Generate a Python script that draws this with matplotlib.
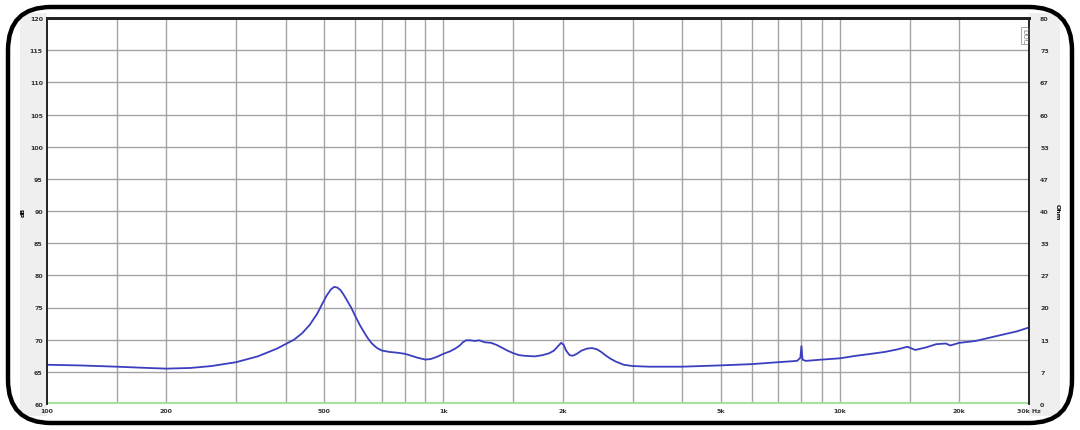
import matplotlib.pyplot as plt
from matplotlib.patches import FancyBboxPatch, Rectangle

# frequency response
freq = [100, 120, 150, 180, 200, 230, 260, 300, 340, 380, 420, 440, 460, 480,
        495, 508, 520, 530, 540, 550, 560, 570, 585, 600, 615, 630, 645, 660,
        680, 700, 730, 770, 800, 830, 860, 900, 930, 960, 1000, 1040, 1070,
        1100, 1120, 1140, 1170, 1200, 1230, 1270, 1320, 1360, 1400, 1450, 1500,
        1550, 1600, 1700, 1780, 1850, 1900, 1940, 1980, 2010, 2040, 2080, 2120,
        2170, 2230, 2300, 2370, 2440, 2500, 2560, 2630, 2720, 2850, 3000, 3300,
        3600, 4000, 5000, 6000, 7000, 7800, 7950, 8000, 8050, 8200, 9000, 10000,
        11000, 12000, 13000, 14000, 14800, 15500, 16500, 17500, 18500, 19000,
        20000, 22000, 25000, 28000, 30000]
spl = [66.1, 66.0, 65.8, 65.6, 65.5, 65.6, 65.9, 66.5, 67.4, 68.6, 70.0, 71.0,
       72.3, 74.0, 75.6, 76.9, 77.8, 78.2, 78.1, 77.7, 77.0, 76.2, 75.0, 73.6,
       72.3, 71.2, 70.2, 69.4, 68.7, 68.3, 68.1, 67.95, 67.8, 67.5, 67.2, 66.9,
       67.0, 67.3, 67.8, 68.2, 68.6, 69.1, 69.6, 69.9, 69.9, 69.8, 69.9, 69.6,
       69.5, 69.2, 68.8, 68.3, 67.9, 67.6, 67.5, 67.4, 67.6, 67.9, 68.3, 68.9,
       69.5, 69.2, 68.3, 67.6, 67.5, 67.8, 68.3, 68.6, 68.7, 68.5, 68.1, 67.6,
       67.1, 66.6, 66.1, 65.9, 65.8, 65.8, 65.8, 66.0, 66.2, 66.5, 66.7, 67.2,
       69.0, 66.9, 66.7, 66.9, 67.1, 67.5, 67.8, 68.1, 68.5, 68.9, 68.4, 68.8,
       69.3, 69.4, 69.1, 69.5, 69.8, 70.6, 71.3, 71.9]

# impedance trace (sits on the floor of the chart)
imp_freq = [100, 30000]
imp_val = [60.15, 60.15]

grid_freqs = [150, 200, 300, 400, 500, 600, 700, 800, 900, 1000, 1500, 2000,
              3000, 4000, 5000, 6000, 7000, 8000, 9000, 10000, 15000, 20000]
x_ticks = [100, 200, 500, 1000, 2000, 5000, 10000, 20000, 30000]
x_labels = ['100', '200', '500', '1k', '2k', '5k', '10k', '20k', '30k Hz']
db_ticks = list(range(60, 121, 5))
ohm_labels = ['0', '7', '13', '20', '27', '33', '40', '47', '53', '60', '67', '73', '80']

W, H = 1080, 431
fig = plt.figure(figsize=(W / 100, H / 100), dpi=100)
fig.patch.set_facecolor('white')

# grey side strips and rounded frame
fig.patches.append(Rectangle((20 / W, 14 / H), 27 / W, 403 / H, transform=fig.transFigure,
                             facecolor='#efefef', edgecolor='none', zorder=-5))
fig.patches.append(Rectangle((1029 / W, 14 / H), 31 / W, 403 / H, transform=fig.transFigure,
                             facecolor='#efefef', edgecolor='none', zorder=-5))
fig.patches.append(FancyBboxPatch((8 / W, 7 / H), 1064 / W, 416 / H,
                                  boxstyle='round,pad=0,rounding_size=0.04',
                                  transform=fig.transFigure, facecolor='none',
                                  edgecolor='black', linewidth=3.2, zorder=5,
                                  mutation_aspect=W / H))

ax = fig.add_axes([47 / W, 26 / H, 982 / W, 386 / H])
ax.set_xscale('log')
ax.set_xlim(100, 30000)
ax.set_ylim(60, 120)

for f in grid_freqs:
    ax.axvline(f, color='#a4a4a4', linewidth=1.0, zorder=1)
for d in db_ticks[1:-1]:
    ax.axhline(d, color='#a4a4a4', linewidth=1.0, zorder=1)

ax.plot(imp_freq, imp_val, color='#a8e0a0', linewidth=2.2, zorder=2)
ax.plot(freq, spl, color='#3b3fbf', linewidth=1.3, zorder=3)

ax.set_xticks(x_ticks)
ax.set_xticklabels(x_labels)
ax.minorticks_off()
ax.set_yticks(db_ticks)
ax.tick_params(axis='both', length=0, labelsize=4.5, colors='#333333', pad=3)
for lab in ax.get_xticklabels() + ax.get_yticklabels():
    lab.set_fontweight('bold')
ax.set_ylabel('dB', fontsize=4.5, fontweight='bold', labelpad=3)

ax2 = ax.twinx()
ax2.set_ylim(0, 80)
ax2.set_yticks([i * 80 / 12 for i in range(13)])
ax2.set_yticklabels(ohm_labels)
ax2.tick_params(axis='y', length=0, labelsize=4.5, colors='#333333', pad=8)
for lab in ax2.get_yticklabels():
    lab.set_fontweight('bold')
ax2.set_ylabel('Ohm', fontsize=4.5, fontweight='bold', rotation=270, labelpad=8)

for a in (ax, ax2):
    a.spines['top'].set_linewidth(2.0)
    a.spines['left'].set_linewidth(1.2)
    a.spines['right'].set_linewidth(1.2)
    a.spines['bottom'].set_visible(False)
    for s in ('top', 'left', 'right'):
        a.spines[s].set_color('#222222')

ax.text(0.9955, 0.975, 'DOC', transform=ax.transAxes, rotation=270, fontsize=5,
        color='#777777', ha='center', va='top',
        bbox=dict(boxstyle='square,pad=0.15', facecolor='white', edgecolor='#999999', linewidth=0.6))

fig.savefig('out.png', dpi=100)
